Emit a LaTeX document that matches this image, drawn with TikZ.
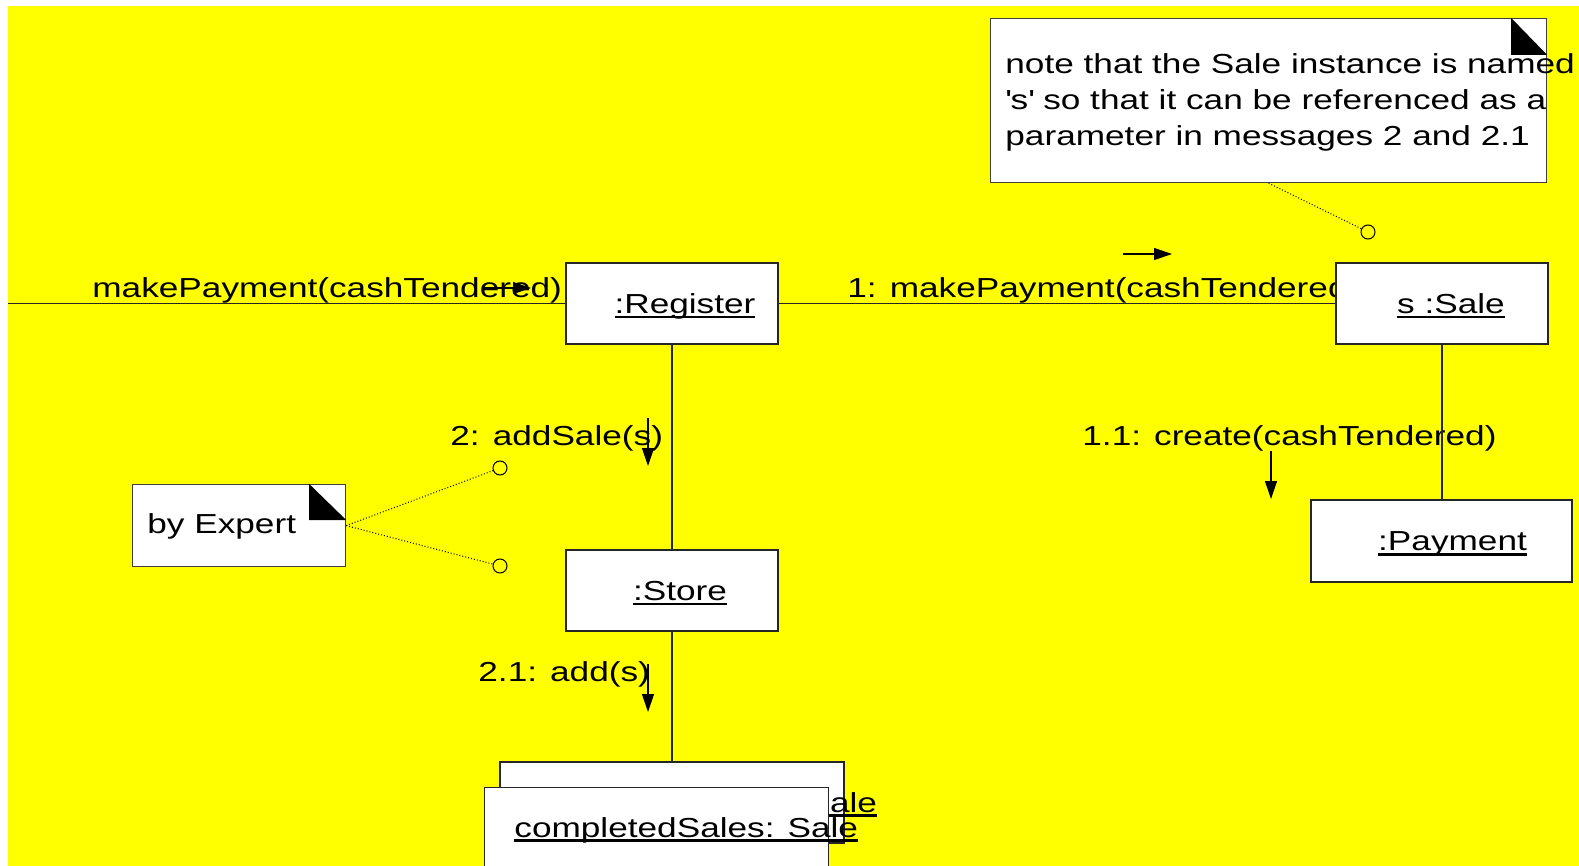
\documentclass[tikz,border=0pt]{standalone}
\usepackage{fontspec}
\setmainfont{Liberation Sans}[FakeStretch=1.28]
\usetikzlibrary{arrows.meta}
\definecolor{bgyellow}{RGB}{255,255,0}
% underlined object name, with a heavier rule than \underline
\newcommand\umlname[1]{\setbox0\hbox{#1}\rlap{\rule[-2.5pt]{\wd0}{1.4pt}}\box0}
\begin{document}
\begin{tikzpicture}[x=0.5pt,y=-0.5pt,
  font=\fontsize{13.75pt}{18pt}\selectfont,
  obj/.style={draw=black!85, line width=0.6pt, fill=white, inner sep=0pt,
              text height=12.7pt, text depth=2.9pt},
  notebox/.style={draw=black!75, line width=0.6pt, fill=white, inner sep=0pt},
  lbl/.style={inner sep=0pt, anchor=base west},
  link/.style={line width=0.6pt, black!85},
  msg/.style={line width=0.6pt, -{Triangle[length=9pt,width=6pt]}},
  anchorline/.style={line width=0.5pt, dash pattern=on 0.5pt off 1pt},
  pin/.style={circle, draw, line width=0.5pt, minimum size=7pt, inner sep=0pt}]

% canvas
\fill[white] (0,0) rectangle (1579,866);
\fill[bgyellow] (8,6) rectangle (1579,866);
\useasboundingbox (0,0) rectangle (1579,866);

% message labels placed under the boxes they run into
\node[lbl] (m0) at (92,298) {makePayment(cashTendered)};
\node[lbl] (m1) at (847,298) {1: makePayment(cashTendered)};
\node[lbl] (m11) at (1082,445) {1.1: create(cashTendered)};
\node[lbl] (m2) at (450,445) {2: addSale(s)};
\node[lbl] (m21) at (478,681) {2.1: add(s)};

% objects
\node[obj, minimum width=106pt, minimum height=40.5pt] (reg) at (672,303.5)
  {\hspace*{13pt}\umlname{:Register}};
\node[obj, minimum width=106pt, minimum height=40.5pt] (sale) at (1442,303.5)
  {\hspace*{9pt}\umlname{s :Sale}};
\node[obj, minimum width=130.5pt, minimum height=41pt] (pay) at (1441.5,541)
  {\hspace*{11pt}\umlname{:Payment}};
\node[obj, minimum width=106pt, minimum height=40.5pt] (store) at (672,590.5)
  {\hspace*{8pt}\umlname{:Store}};

% multiobject: completedSales
\node[obj, minimum width=172pt, minimum height=40.5pt] (coll) at (672,802.5) {};
\node[lbl] (collTxt) at (533,812) {\umlname{completedSales: Sale}};
\node[obj, minimum width=172pt, minimum height=50pt, anchor=north west] (collFront) at (484,787) {};
\node[lbl] (collFrontTxt) at (514,837) {\umlname{completedSales: Sale}};

% note on the Sale instance
\node[notebox, minimum width=278pt, minimum height=82pt, anchor=north west] (saleNote) at (990,18) {};
\fill (saleNote.north east) ++(-36,0) -- ++(0,37) -- ++(36,0) -- cycle;
\node[lbl] (noteA) at (1005,74) {note that the Sale instance is named};
\node[lbl] (noteB) at (1005,110) {\textquotesingle s\textquotesingle{} so that it can be referenced as a};
\node[lbl] (noteC) at (1005,146) {parameter in messages 2 and 2.1};
\node[pin] (pinSale) at (1368,232) {};
\draw[anchorline] (saleNote.south) -- (pinSale);

% note "by Expert"
\node[notebox, minimum width=106.5pt, minimum height=41pt, anchor=north west] (expNote) at (132,484) {};
\fill (expNote.north east) ++(-37,0) -- ++(0,36) -- ++(37,0) -- cycle;
\node[lbl] (expTxt) at (147,533) {by Expert};
\node[pin] (pinAdd) at (500,468) {};
\node[pin] (pinStore) at (500,566) {};
\draw[anchorline] (expNote.east) -- (pinAdd);
\draw[anchorline] (expNote.east) -- (pinStore);

% links
\coordinate (inEdge) at (8,303.5);
\draw[link] (inEdge) -- (reg.west);
\draw[link] (reg) -- (sale);
\draw[link] (reg) -- (store);
\draw[link] (store) -- (coll);
\draw[link] (sale.south) -- (sale.south |- pay.north);

% message direction arrows
\coordinate (a0s) at (484,288);  \coordinate (a0e) at (531,288);
\coordinate (a1s) at (1123,254); \coordinate (a1e) at (1172,254);
\coordinate (a11s) at (1271,451); \coordinate (a11e) at (1271,499);
\coordinate (a2s) at (648,418);  \coordinate (a2e) at (648,466);
\coordinate (a21s) at (648,664); \coordinate (a21e) at (648,712);
\draw[msg] (a0s) -- (a0e);
\draw[msg] (a1s) -- (a1e);
\draw[msg] (a11s) -- (a11e);
\draw[msg] (a2s) -- (a2e);
\draw[msg] (a21s) -- (a21e);
\end{tikzpicture}
\end{document}
